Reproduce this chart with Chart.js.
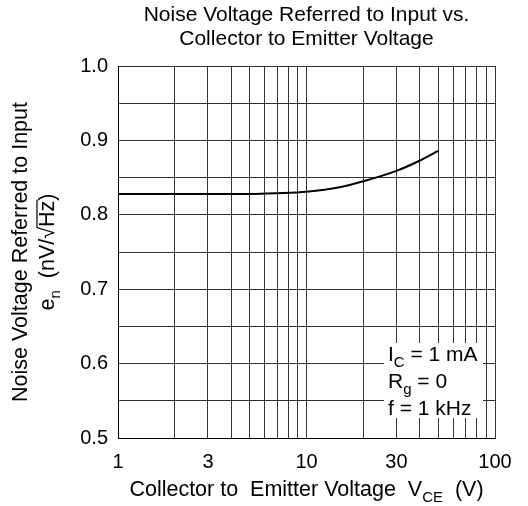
<!DOCTYPE html>
<html>
<head>
<meta charset="utf-8">
<script src="https://cdn.jsdelivr.net/npm/chart.js@4.4.1/dist/chart.umd.min.js"></script>
<style>
  html, body { margin: 0; padding: 0; background: #fff; }
  canvas { display: block; }
</style>
</head>
<body>
<canvas id="chart" width="528" height="506"></canvas>
<script>
// collector-emitter voltage (V) and noise voltage (nV/rtHz)
const vce = [1, 2, 3, 5, 7, 10, 15, 20, 30, 40, 50];
const noise = [0.828, 0.828, 0.828, 0.828, 0.829, 0.831, 0.837, 0.845, 0.859, 0.873, 0.886];

// grid lines and the ones that get a label
const xGrid = [1, 2, 3, 4, 5, 6, 7, 8, 9, 10, 20, 30, 40, 50, 60, 70, 80, 90, 100];
const xLabels = [1, 3, 10, 30, 100];
const yGrid = [0.5, 0.55, 0.6, 0.65, 0.7, 0.75, 0.8, 0.85, 0.9, 0.95, 1.0];
const yLabels = [0.5, 0.6, 0.7, 0.8, 0.9, 1.0];

const FONT = '"Liberation Sans", Arial, sans-serif';

// draws a run of text pieces, some of them subscripts, starting at x
function drawRun(ctx, parts, x, y, size) {
    parts.forEach(p => {
        const s = p.sub ? Math.round(size * 0.72) : size;
        ctx.font = s + 'px ' + FONT;
        const dy = p.sub ? size * 0.3 : 0;
        ctx.fillText(p.t, x, y + dy);
        const w = ctx.measureText(p.t).width;
        if (p.over) {
            ctx.fillRect(x - 1, y - size * 0.82, w + 2, 1.2);
        }
        x += w;
    });
    return x;
}
function runWidth(ctx, parts, size) {
    let w = 0;
    parts.forEach(p => {
        const s = p.sub ? Math.round(size * 0.72) : size;
        ctx.font = s + 'px ' + FONT;
        w += ctx.measureText(p.t).width;
    });
    return w;
}

const textPlugin = {
    id: 'texts',
    afterDraw(chart) {
        const ctx = chart.ctx;
        const area = chart.chartArea;
        const cx = (area.left + area.right) / 2;
        ctx.save();
        ctx.fillStyle = '#000';
        ctx.textBaseline = 'alphabetic';
        ctx.textAlign = 'center';
        ctx.font = '21px ' + FONT;
        ctx.fillText('Noise Voltage Referred to Input vs.', cx, 21);
        ctx.fillText('Collector to Emitter Voltage', cx, 44.5);

        // x axis title
        ctx.textAlign = 'left';
        const xt = [{t: 'Collector to  Emitter Voltage  V'}, {t: 'CE', sub: true}, {t: '  (V)'}];
        drawRun(ctx, xt, cx - runWidth(ctx, xt, 21.5) / 2, 496, 21.5);

        // y axis title, rotated
        const cy = (area.top + area.bottom) / 2;
        ctx.translate(0, cy);
        ctx.rotate(-Math.PI / 2);
        ctx.textAlign = 'center';
        ctx.font = '21.5px ' + FONT;
        ctx.fillText('Noise Voltage Referred to Input', 0, 27);
        ctx.textAlign = 'left';
        const yt = [{t: 'e'}, {t: 'n', sub: true}, {t: '  (nV/\u221A'}, {t: 'Hz', over: true}, {t: ')'}];
        drawRun(ctx, yt, -runWidth(ctx, yt, 21.5) / 2, 54, 21.5);
        ctx.restore();
    },
    afterDatasetsDraw(chart) {
        // condition box with white background
        const ctx = chart.ctx;
        ctx.save();
        ctx.fillStyle = '#fff';
        ctx.fillRect(384, 343, 99, 75);
        ctx.fillStyle = '#000';
        ctx.textAlign = 'left';
        ctx.textBaseline = 'alphabetic';
        drawRun(ctx, [{t: 'I'}, {t: 'C', sub: true}, {t: ' = 1 mA'}], 388, 361, 21);
        drawRun(ctx, [{t: 'R'}, {t: 'g', sub: true}, {t: ' = 0'}], 388, 388, 21);
        drawRun(ctx, [{t: 'f = 1 kHz'}], 388, 415, 21);
        ctx.restore();
    }
};

new Chart(document.getElementById('chart'), {
    type: 'line',
    data: {
        datasets: [{
            data: vce.map((v, i) => ({x: v, y: noise[i]})),
            borderColor: '#000',
            borderWidth: 2,
            pointRadius: 0,
            fill: false,
            cubicInterpolationMode: 'monotone'
        }]
    },
    options: {
        responsive: false,
        animation: false,
        devicePixelRatio: 1,
        layout: { padding: { top: 66, right: 33, left: 0, bottom: 0 } },
        plugins: {
            legend: { display: false },
            title: { display: false },
            tooltip: { enabled: false }
        },
        scales: {
            x: {
                type: 'logarithmic',
                min: 1,
                max: 100,
                afterBuildTicks: s => { s.ticks = xGrid.map(v => ({value: v})); },
                afterFit: s => { s.height = 68; },
                grid: { color: '#333', lineWidth: 1, drawTicks: false },
                border: { color: '#000', width: 1 },
                ticks: {
                    autoSkip: false,
                    maxRotation: 0,
                    padding: 12,
                    color: '#000',
                    font: { size: 20, family: FONT },
                    callback: v => xLabels.includes(v) ? String(v) : ''
                }
            },
            y: {
                type: 'linear',
                min: 0.5,
                max: 1.0,
                afterBuildTicks: s => { s.ticks = yGrid.map(v => ({value: v})); },
                afterFit: s => { s.width = 118; },
                grid: { color: '#333', lineWidth: 1, drawTicks: false },
                border: { color: '#000', width: 1 },
                ticks: {
                    padding: 10,
                    color: '#000',
                    font: { size: 20, family: FONT },
                    callback: v => yLabels.some(l => Math.abs(l - v) < 1e-9) ? v.toFixed(1) : ''
                }
            }
        }
    },
    plugins: [textPlugin]
});
</script>
</body>
</html>
